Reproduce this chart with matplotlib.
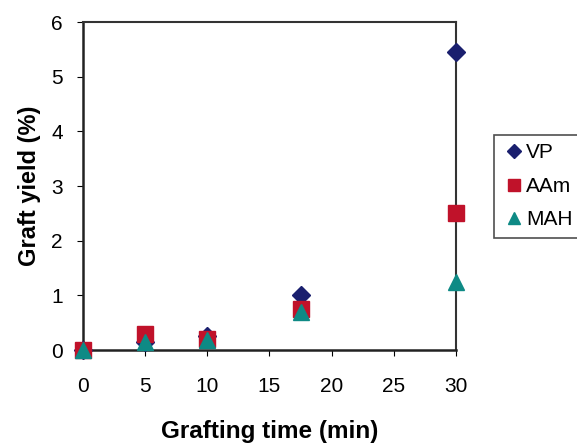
import matplotlib.pyplot as plt

plt.rcParams['font.family'] = ['Liberation Sans', 'DejaVu Sans']

time_min = [0, 5, 10, 17.5, 30]
vp = [0.0, 0.15, 0.25, 1.0, 5.45]
aam = [0.0, 0.3, 0.2, 0.75, 2.5]
mah = [0.0, 0.15, 0.18, 0.7, 1.25]

fig = plt.figure(figsize=(5.77, 4.43), dpi=100)
ax = fig.add_axes([0.1438, 0.2099, 0.6465, 0.7404])

ax.plot(time_min, vp, linestyle='none', marker='D', markersize=9.5,
        color='#1a1f6e', label='VP', clip_on=False, zorder=3)
ax.plot(time_min, aam, linestyle='none', marker='s', markersize=11,
        color='#c0122a', label='AAm', clip_on=False, zorder=4)
ax.plot(time_min, mah, linestyle='none', marker='^', markersize=11.5,
        color='#0e8a85', label='MAH', clip_on=False, zorder=5)

ax.set_xlim(0, 30)
ax.set_ylim(0, 6)
ax.set_xticks([0, 5, 10, 15, 20, 25, 30])
ax.set_yticks([0, 1, 2, 3, 4, 5, 6])
ax.tick_params(axis='x', direction='out', length=4.5, pad=15, labelsize=15)
ax.tick_params(axis='y', direction='out', length=4.5, pad=10, labelsize=15)

for side in ['left', 'bottom']:
    ax.spines[side].set_linewidth(1.8)
    ax.spines[side].set_color('#222222')
for side in ['top', 'right']:
    ax.spines[side].set_linewidth(1.5)
    ax.spines[side].set_color('#333333')

ax.set_xlabel('Grafting time (min)', fontsize=17.5, fontweight='bold', labelpad=17)
ax.set_ylabel('Graft yield (%)', fontsize=17, fontweight='bold', labelpad=7)

leg = ax.legend(loc='upper left', bbox_to_anchor=(494 / 577, 1 - 135 / 443),
                bbox_transform=fig.transFigure, fontsize=15,
                frameon=True, fancybox=False, handletextpad=0.05,
                handlelength=1.1, borderpad=0.4, labelspacing=0.7,
                borderaxespad=0, markerscale=0.8)
leg.get_frame().set_edgecolor('#222222')
leg.get_frame().set_linewidth(1.2)

fig.savefig('out.png', dpi=100)
